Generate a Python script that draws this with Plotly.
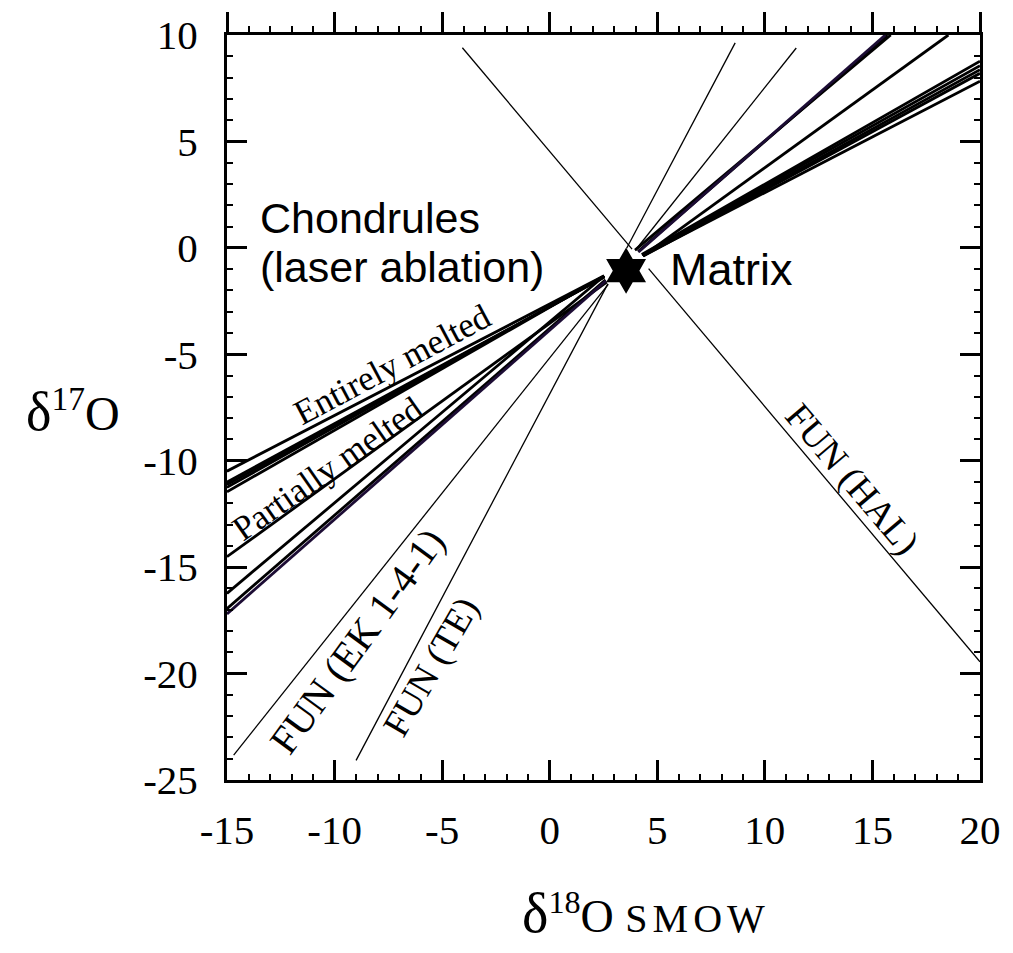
import math
import plotly.graph_objects as go

# ---------------- data ----------------
# Chondrule (laser ablation) regression lines: endpoints in (d18O, d17O)
chond_x0 = [-15, -15, -15, -15, -15, -15, -15, -15, -15]
chond_y0 = [-10.49, -11.0, -11.12, -11.25, -11.46, -14.51, -16.23, -16.95, -17.2]
chond_x1 = [20, 20, 20, 20, 20, 18.53, 15.85, 15.7, 15.6]
chond_y1 = [7.83, 8.2, 8.37, 8.56, 8.77, 10, 10, 10, 10]

# FUN inclusion lines
fun_names = ["FUN (HAL)", "FUN (EK 1-4-1)", "FUN (TE)"]
fun_x0 = [-4.06, -14.69, -9.0]
fun_y0 = [9.4, -23.83, -24.08]
fun_x1 = [20, 11.46, 8.62]
fun_y1 = [-19.45, 9.39, 9.63]

# Matrix composition
matrix_x = [3.55]
matrix_y = [-1.07]

# Axis ticks
x_ticks = [-15, -10, -5, 0, 5, 10, 15, 20]
x_ticktext = ["-15", "-10", "-5", "0", "5", "10", "15", "20"]
y_ticks = [-25, -20, -15, -10, -5, 0, 5, 10]
y_ticktext = ["-25", "-20", "-15", "-10", "-5", "0", "5", "10"]

GAP = 1.05  # blank radius around the matrix star (data units)


def trimmed(x0, y0, x1, y1, cx, cy, r):
    dx, dy = x1 - x0, y1 - y0
    fx, fy = x0 - cx, y0 - cy
    a = dx * dx + dy * dy
    b = 2 * (fx * dx + fy * dy)
    c = fx * fx + fy * fy - r * r
    disc = b * b - 4 * a * c
    if disc <= 0:
        return [x0, x1], [y0, y1]
    s = math.sqrt(disc)
    t1 = (-b - s) / (2 * a)
    t2 = (-b + s) / (2 * a)
    xs, ys = [], []
    if t1 > 0:
        t = min(t1, 1)
        xs += [x0, x0 + dx * t, None]
        ys += [y0, y0 + dy * t, None]
    if t2 < 1:
        t = max(t2, 0)
        xs += [x0 + dx * t, x1, None]
        ys += [y0 + dy * t, y1, None]
    return xs, ys


fig = go.Figure()

cx, cy = matrix_x[0], matrix_y[0]
for i in range(len(chond_y0)):
    xs, ys = trimmed(chond_x0[i], chond_y0[i], chond_x1[i], chond_y1[i], cx, cy, GAP)
    fig.add_trace(go.Scatter(x=xs, y=ys, mode="lines",
                             line=dict(color="#000000" if i < 8 else "#1c0c34", width=2.8),
                             hoverinfo="skip", showlegend=False))

for i in range(len(fun_names)):
    xs, ys = trimmed(fun_x0[i], fun_y0[i], fun_x1[i], fun_y1[i], cx, cy, GAP)
    fig.add_trace(go.Scatter(x=xs, y=ys, mode="lines",
                             line=dict(color="black", width=1.3),
                             name=fun_names[i], hoverinfo="skip", showlegend=False))

fig.add_trace(go.Scatter(x=matrix_x, y=matrix_y, mode="markers",
                         marker=dict(symbol="hexagram", size=35, color="black",
                                     line=dict(width=0)),
                         name="Matrix", showlegend=False))

# invisible trace to carry the top axis
fig.add_trace(go.Scatter(x=[x_ticks[0], x_ticks[-1]], y=[y_ticks[0], y_ticks[0]],
                         mode="lines", line=dict(width=0), opacity=0,
                         xaxis="x2", hoverinfo="skip", showlegend=False))

serif = "Liberation Serif"
sans = "Liberation Sans"

common_axis = dict(showgrid=False, zeroline=False, showline=True, linewidth=3,
                   linecolor="black", tickcolor="black", tickwidth=3, ticklen=20)

fig.update_layout(
    width=1013, height=953,
    margin=dict(l=227, r=29, t=32, b=173),
    paper_bgcolor="white", plot_bgcolor="white",
    showlegend=False,
    xaxis=dict(range=[-15, 20], tickmode="array", tickvals=x_ticks, ticktext=x_ticktext,
               ticks="inside", mirror=False,
               minor=dict(ticks="inside", ticklen=6, tickwidth=2, tickcolor="black",
                          tickmode="linear", tick0=0, dtick=1, showgrid=False),
               tickfont=dict(family=serif, size=41, color="black"),
               ticklabelstandoff=12, **common_axis),
    xaxis2=dict(range=[-15, 20], overlaying="x", side="top", matches="x",
                tickmode="array", tickvals=x_ticks, showticklabels=False,
                ticks="outside",
                minor=dict(ticks="outside", ticklen=6, tickwidth=2, tickcolor="black",
                           tickmode="linear", tick0=0, dtick=1, showgrid=False),
                **common_axis),
    yaxis=dict(range=[-25, 10], tickmode="array", tickvals=y_ticks, ticktext=y_ticktext,
               ticks="inside", mirror="ticks",
               minor=dict(ticks="inside", ticklen=6, tickwidth=2, tickcolor="black",
                          tickmode="linear", tick0=0, dtick=1, showgrid=False),
               tickfont=dict(family=serif, size=41, color="black"),
               ticklabelstandoff=18, **common_axis),
)

ann = []
# axis titles
ann.append(dict(xref="paper", yref="paper", x=0.556, y=-0.178,
                text="<span style='font-size:56px'>δ</span><sup>18</sup>O "
                     "<span style='font-size:40px;letter-spacing:5px'>SMOW</span>",
                showarrow=False, font=dict(family=serif, size=46, color="black"),
                xanchor="center", yanchor="middle"))
ann.append(dict(xref="paper", yref="paper", x=-0.205, y=0.495,
                text="<span style='font-size:54px'>δ</span><sup>17</sup>O",
                showarrow=False, font=dict(family=serif, size=48, color="black"),
                xanchor="center", yanchor="middle"))
# in-plot labels
ann.append(dict(x=-13.55, y=1.40, text="Chondrules", showarrow=False,
                xanchor="left", yanchor="middle",
                font=dict(family=sans, size=43, color="black")))
ann.append(dict(x=-13.55, y=-0.89, text="(laser ablation)", showarrow=False,
                xanchor="left", yanchor="middle",
                font=dict(family=sans, size=43, color="black")))
ann.append(dict(x=5.49, y=-1.03, text="Matrix", showarrow=False,
                xanchor="left", yanchor="middle",
                font=dict(family=sans, size=45, color="black")))
ann.append(dict(x=-7.30, y=-5.50, text="Entirely melted", showarrow=False, textangle=-28,
                font=dict(family=serif, size=35, color="black")))
ann.append(dict(x=-10.31, y=-10.35, text="Partially melted", showarrow=False, textangle=-35,
                font=dict(family=serif, size=35, color="black")))
ann.append(dict(x=-8.92, y=-18.46, text=fun_names[1], showarrow=False, textangle=-54,
                font=dict(family=serif, size=40, color="black")))
ann.append(dict(x=-5.51, y=-19.70, text=fun_names[2], showarrow=False, textangle=-60,
                font=dict(family=serif, size=37, color="black")))
ann.append(dict(x=14.04, y=-10.87, text=fun_names[0], showarrow=False, textangle=49.7,
                font=dict(family=serif, size=37, color="black")))
fig.update_layout(annotations=ann)

fig.write_html("out.html")
